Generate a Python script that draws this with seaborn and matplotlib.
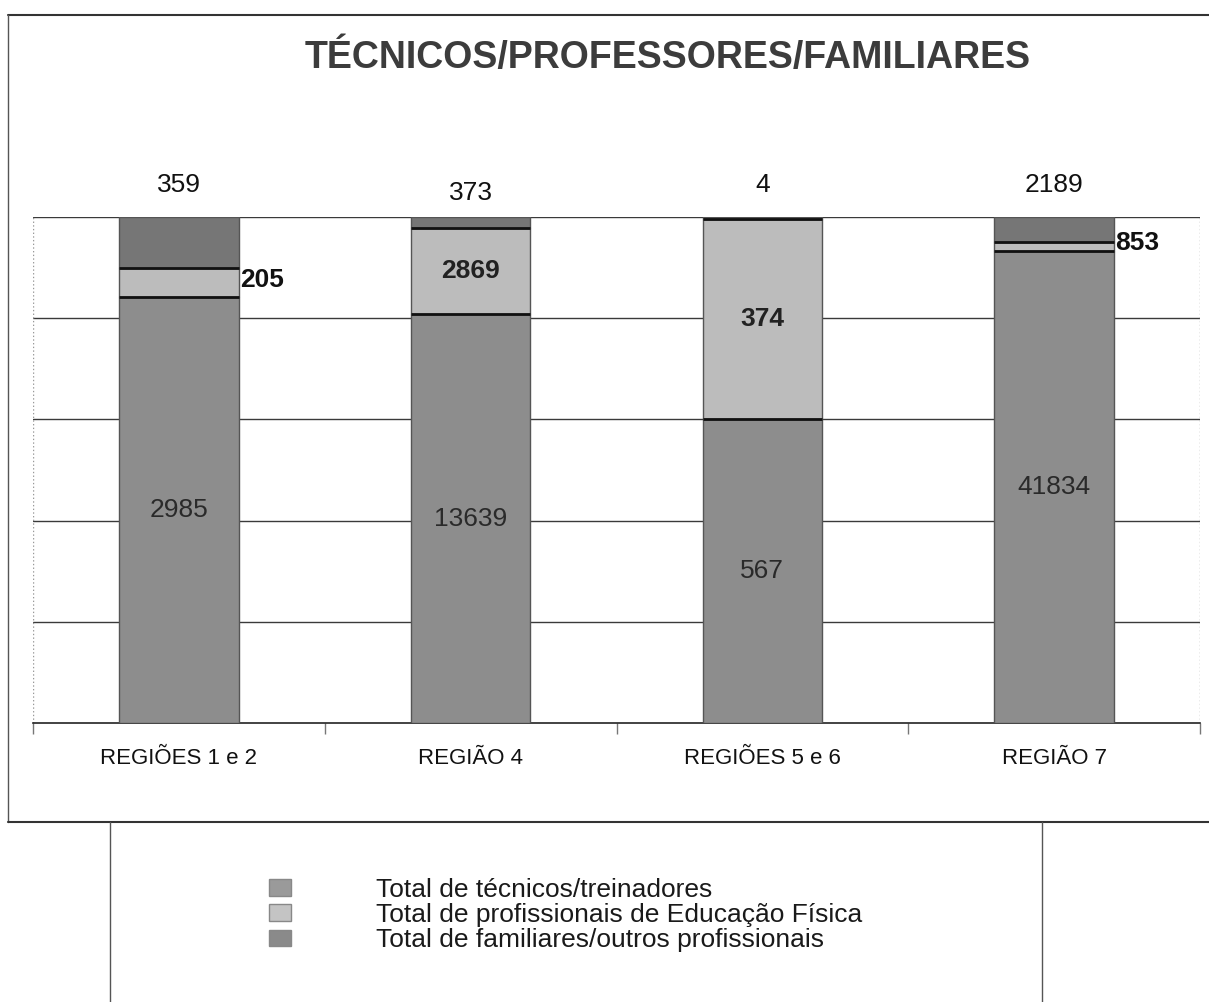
import matplotlib
matplotlib.use("Agg")
import matplotlib.pyplot as plt
from matplotlib.patches import Patch
from matplotlib.lines import Line2D
import seaborn as sns
import numpy as np

regions = ["REGIÕES 1 e 2", "REGIÃO 4", "REGIÕES 5 e 6", "REGIÃO 7"]
tecnicos = [2985, 13639, 567, 41834]
ed_fisica = [205, 2869, 374, 853]
familiares = [359, 373, 4, 2189]
series_names = ["Total de técnicos/treinadores",
                "Total de profissionais de Educação Física",
                "Total de familiares/outros profissionais"]
colors = ["#8d8d8d", "#bcbcbc", "#767676"]

sns.set_theme(style="white")
plt.rcParams["font.family"] = ["Liberation Sans", "DejaVu Sans"]

tot = np.array(tecnicos) + np.array(ed_fisica) + np.array(familiares)
p_tec = np.array(tecnicos) / tot * 100
p_edf = np.array(ed_fisica) / tot * 100
p_fam = np.array(familiares) / tot * 100

fig = plt.figure(figsize=(12.09, 10.02), dpi=100)
ax = fig.add_axes([33 / 1209, 1 - 723 / 1002, (1200 - 33) / 1209, (723 - 217) / 1002])

bw = 0.41
sns.barplot(x=regions, y=p_tec, color=colors[0], width=bw, edgecolor="#555555",
            linewidth=1, saturation=1, ax=ax, zorder=3)
sns.barplot(x=regions, y=p_edf, bottom=p_tec, color=colors[1], width=bw,
            edgecolor="#555555", linewidth=1, saturation=1, ax=ax, zorder=3)
sns.barplot(x=regions, y=p_fam, bottom=p_tec + p_edf, color=colors[2], width=bw,
            edgecolor="#555555", linewidth=1, saturation=1, ax=ax, zorder=3)
# black separators between stacked segments
xs = np.arange(4)
ax.hlines(p_tec, xs - bw / 2, xs + bw / 2, color="#111111", lw=2, zorder=4)
ax.hlines(p_tec + p_edf, xs - bw / 2, xs + bw / 2, color="#111111", lw=2, zorder=4)

ax.set_ylim(0, 100)
ax.set_xlim(-0.5, 3.5)
ax.set_yticks([20, 40, 60, 80, 100])
ax.set_yticklabels([])
ax.yaxis.grid(True, color="#3a3a3a", linewidth=1)
ax.set_axisbelow(True)
for s in ["top", "right", "left"]:
    ax.spines[s].set_visible(False)
ax.spines["bottom"].set_color("#222222")
ax.spines["bottom"].set_linewidth(1.2)
ax.axvline(-0.5, color="#999999", linestyle=":", linewidth=1)
ax.axvline(3.5, color="#999999", linestyle=":", linewidth=1)

ax.set_xticks(range(4))
ax.set_xticklabels(regions, fontsize=16, color="#111111")
ax.set_xticks([-0.5, 0.5, 1.5, 2.5, 3.5], minor=True)
ax.tick_params(axis="x", which="major", length=0, pad=18)
ax.tick_params(axis="x", which="minor", length=8, color="#777777", direction="out", bottom=True)
ax.tick_params(axis="y", length=0)
ax.set_xlabel("")
ax.set_ylabel("")

# labels
for i in range(4):
    ax.text(i, p_tec[i] / 2, str(tecnicos[i]), ha="center", va="center",
            fontsize=19, color="#2a2a2a", zorder=5)
    off = 4.8 if i == 1 else 6.3
    ax.text(i, 100 + off, str(familiares[i]), ha="center", va="center",
            fontsize=19, color="#111111", clip_on=False)
for i in range(4):
    if p_edf[i] > 10:
        ax.text(i, p_tec[i] + p_edf[i] / 2, str(ed_fisica[i]), ha="center",
                va="center", fontsize=19, fontweight="bold", color="#222222", zorder=5)
    else:
        ax.text(i + bw / 2 + 0.005, p_tec[i] + p_edf[i] / 2 + 0.6, str(ed_fisica[i]),
                ha="left", va="center", fontsize=19, fontweight="bold",
                color="#111111", zorder=5)

fig.text(0.552, 1 - 58 / 1002, "TÉCNICOS/PROFESSORES/FAMILIARES", ha="center",
         va="center", fontsize=27, fontweight="bold", color="#3c3c3c")

# outer frame lines
fig.add_artist(Line2D([8 / 1209, 1.0], [1 - 15 / 1002] * 2, color="#333333", lw=1.5))
fig.add_artist(Line2D([8 / 1209] * 2, [1 - 15 / 1002, 1 - 822 / 1002], color="#555555", lw=1))
fig.add_artist(Line2D([8 / 1209, 1.0], [1 - 822 / 1002] * 2, color="#333333", lw=1.5))
fig.add_artist(Line2D([110 / 1209] * 2, [1 - 822 / 1002, 0], color="#555555", lw=1))
fig.add_artist(Line2D([1042 / 1209] * 2, [1 - 822 / 1002, 0], color="#555555", lw=1))

handles = [Patch(facecolor=c, edgecolor="#888888") for c in ["#9a9a9a", "#c4c4c4", "#8a8a8a"]]
fig.legend(handles, series_names, loc="center left",
           bbox_to_anchor=(245 / 1209, 1 - 915 / 1002), frameon=False,
           fontsize=19, handlelength=0.85, handleheight=0.6, handletextpad=3.2,
           labelspacing=0.05, labelcolor="#1a1a1a")

fig.savefig("out.png", dpi=100)
